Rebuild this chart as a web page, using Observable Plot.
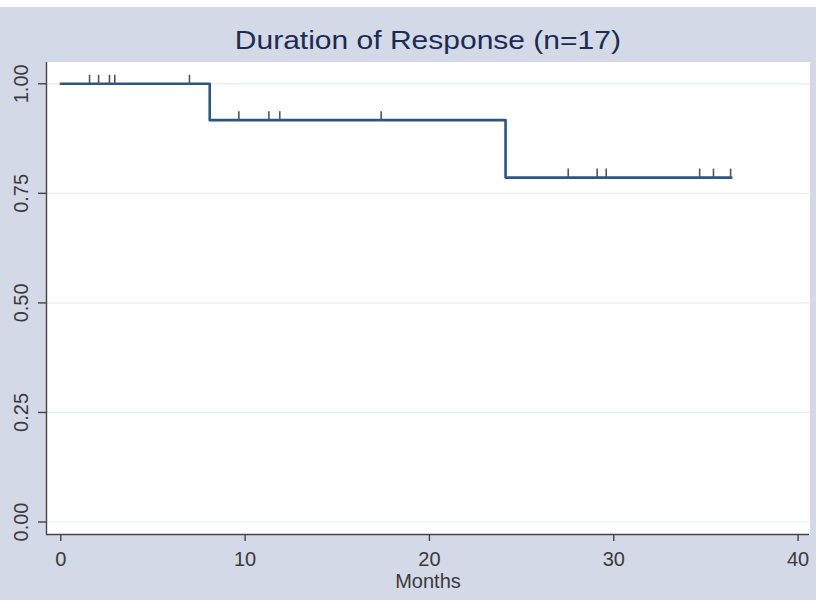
<!DOCTYPE html>
<html>
<head>
<meta charset="utf-8">
<script src="https://cdn.jsdelivr.net/npm/d3@7"></script>
<script src="https://cdn.jsdelivr.net/npm/@observablehq/plot@0.6"></script>
<style>
  html, body { margin: 0; padding: 0; background: #ffffff; }
  body { font-family: "Liberation Sans", Arial, sans-serif; }
  #wrap { position: absolute; top: 7px; left: 0; width: 816px; height: 593px; background: #d3d9e6; overflow: hidden; }
  #title { height: 48px; margin: 0; padding: 0 7px 0 46px; box-sizing: border-box;
           text-align: center; font-weight: normal; color: #1c2b52; font-size: 25px; line-height: 67px; }
  #title span { display: inline-block; transform: scaleX(1.2); transform-origin: center; }
  #chart svg { display: block; }
</style>
</head>
<body>
<div id="wrap">
  <div id="title"><span>Duration of Response (n=17)</span></div>
  <div id="chart"></div>
</div>
<script>
// Kaplan–Meier estimate: months at which the step changes and survival from there on
const stepMonths = [0, 8.08, 24.13, 36.38];
const stepSurvival = [1.0, 0.917, 0.786, 0.786];

// Censored responders (months, survival level at that time)
const censorMonths = [1.56, 2.05, 2.64, 2.93, 6.98, 9.66, 11.29, 11.88, 17.38, 27.53, 29.10, 29.59, 34.66, 35.41, 36.34];
const censorSurvival = [1, 1, 1, 1, 1, 0.917, 0.917, 0.917, 0.917, 0.786, 0.786, 0.786, 0.786, 0.786, 0.786];

// Axis ticks
const xTicks = [0, 10, 20, 30, 40];
const yTicks = [0, 0.25, 0.5, 0.75, 1];
const yTickLabels = ["0.00", "0.25", "0.50", "0.75", "1.00"];

const xDomain = [-0.776, 40.62];
const yDomain = [-0.0285, 1.0486];

const steps = stepMonths.map((m, i) => ({month: m, survival: stepSurvival[i]}));
const censored = censorMonths.map((m, i) => ({month: m, survival: censorSurvival[i]}));
const yLabels = yTicks.map((v, i) => ({value: v, label: yTickLabels[i]}));

// Short upward tick used to flag censored observations
const censorTick = {
  draw(context) {
    context.moveTo(0, 0);
    context.lineTo(0, -9);
  }
};

const axisColor = "#444444";
const textColor = "#3a3a3a";

const chart = Plot.plot({
  width: 816,
  height: 545,
  marginTop: 7,
  marginRight: 7,
  marginBottom: 66,
  marginLeft: 46,
  style: {background: "transparent", fontFamily: "'Liberation Sans', Arial, sans-serif", fontSize: "20px", color: textColor},
  x: {domain: xDomain},
  y: {domain: yDomain},
  marks: [
    Plot.frame({fill: "white", stroke: "white"}),
    Plot.gridY(yTicks, {stroke: "#e3eef0", strokeOpacity: 1, strokeWidth: 1.2}),
    Plot.ruleX([xDomain[0]], {stroke: axisColor, strokeWidth: 1.4}),
    Plot.ruleY([yDomain[0]], {stroke: axisColor, strokeWidth: 1.4}),
    Plot.axisX(xTicks, {tickSize: 7, tickPadding: 10, label: null, stroke: axisColor, strokeWidth: 1.4, fill: textColor, fontSize: 20}),
    Plot.axisY(yTicks, {tickSize: 8, tickFormat: () => "", label: null, stroke: axisColor, strokeWidth: 1.4}),
    Plot.text(yLabels, {x: xDomain[0], y: "value", text: "label", rotate: -90, dx: -25, fill: textColor, fontSize: 20, textAnchor: "middle"}),
    Plot.line(steps, {x: "month", y: "survival", curve: "step-after", stroke: "#2a5683", strokeWidth: 2.6}),
    Plot.dot(censored, {x: "month", y: "survival", symbol: censorTick, r: 4, fill: "none", stroke: "#555555", strokeWidth: 1.6}),
    Plot.text(["Months"], {frameAnchor: "bottom", dy: 53, fill: textColor, fontSize: 20})
  ]
});

document.getElementById("chart").appendChild(chart);
</script>
</body>
</html>
